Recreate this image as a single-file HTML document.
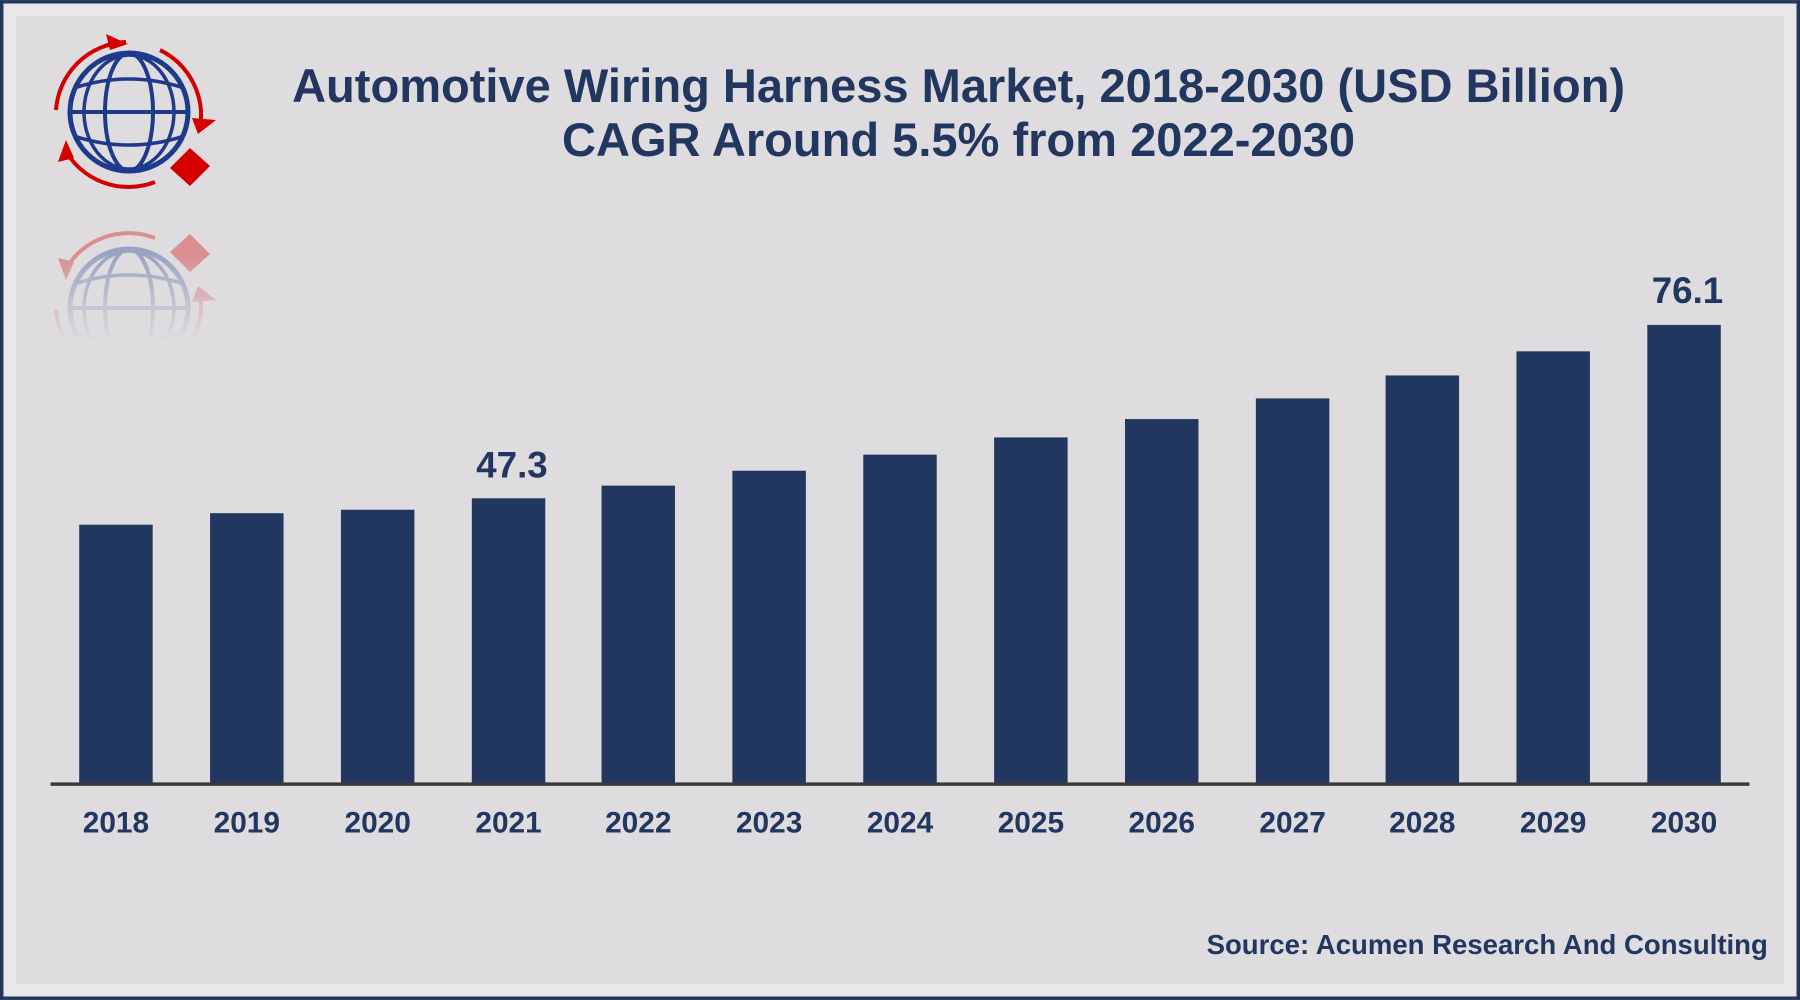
<!DOCTYPE html>
<html><head><style>html,body{margin:0;padding:0;background:#dedcdf}svg{display:block}</style></head><body>
<svg width="1800" height="1000" viewBox="0 0 1568 871" xmlns="http://www.w3.org/2000/svg" font-family="Liberation Sans, sans-serif" font-weight="bold">
<defs>
<linearGradient id="fade" x1="0" y1="0" x2="0" y2="1"><stop offset="0" stop-color="#dedcdf" stop-opacity="0"/><stop offset="0.6" stop-color="#dedcdf" stop-opacity="1"/></linearGradient>
<g id="lg">
<circle cx="129" cy="112" r="59" fill="none" stroke="#1e3a8a" stroke-width="5"/>
<ellipse cx="129" cy="112" rx="24" ry="59" fill="none" stroke="#1e3a8a" stroke-width="4"/>
<ellipse cx="129" cy="112" rx="45" ry="57" fill="none" stroke="#1e3a8a" stroke-width="3.5"/>
<line x1="70" y1="112" x2="188" y2="112" stroke="#1e3a8a" stroke-width="4"/>
<path d="M74 88 Q129 70 184 88" fill="none" stroke="#1e3a8a" stroke-width="3.5"/>
<path d="M74 136 Q129 154 184 136" fill="none" stroke="#1e3a8a" stroke-width="3.5"/>
<path d="M56 110 A73 73 0 0 1 126 42" fill="none" stroke="#d40000" stroke-width="4"/>
<polygon points="106,34 128,44 110,50" fill="#d40000"/>
<path d="M160 50 A73 73 0 0 1 200 128" fill="none" stroke="#d40000" stroke-width="4"/>
<polygon points="216,120 198,134 192,118" fill="#d40000"/>
<path d="M64 148 A73 73 0 0 0 155 182" fill="none" stroke="#d40000" stroke-width="4"/>
<polygon points="58,162 66,140 74,158" fill="#d40000"/>
<polygon points="190,148 210,166 190,186 170,168" fill="#d40000"/>
</g>
</defs>
<rect x="0" y="0" width="1568" height="871" fill="#21375f"/>
<rect x="3" y="3" width="1562" height="865" fill="#e8e7ea"/>
<rect x="14" y="14" width="1540" height="843" fill="#dedcdf"/>
<g transform="scale(0.871)">
<use href="#lg"/>
<g opacity="0.35" transform="translate(0,420) scale(1,-1)"><use href="#lg"/></g>
</g>
<rect x="30" y="222" width="190" height="125" fill="url(#fade)"/>
<g fill="#21375f" font-size="41" text-anchor="middle">
<text x="835" y="89">Automotive Wiring Harness Market, 2018-2030 (USD Billion)</text>
<text x="835" y="136">CAGR Around 5.5% from 2022-2030</text>
</g>
<g fill="#21375f">
<rect x="69" y="457" width="64" height="226"/>
<rect x="183" y="447" width="64" height="236"/>
<rect x="297" y="444" width="64" height="239"/>
<rect x="411" y="434" width="64" height="249"/>
<rect x="524" y="423" width="64" height="260"/>
<rect x="638" y="410" width="64" height="273"/>
<rect x="752" y="396" width="64" height="287"/>
<rect x="866" y="381" width="64" height="302"/>
<rect x="980" y="365" width="64" height="318"/>
<rect x="1094" y="347" width="64" height="336"/>
<rect x="1207" y="327" width="64" height="356"/>
<rect x="1321" y="306" width="64" height="377"/>
<rect x="1435" y="283" width="64" height="400"/>
</g>
<line x1="44" y1="683" x2="1524" y2="683" stroke="#3a3a3a" stroke-width="3"/>
<g fill="#21375f" font-size="26" text-anchor="middle">
<text x="101" y="725">2018</text><text x="215" y="725">2019</text><text x="329" y="725">2020</text>
<text x="443" y="725">2021</text><text x="556" y="725">2022</text><text x="670" y="725">2023</text>
<text x="784" y="725">2024</text><text x="898" y="725">2025</text><text x="1012" y="725">2026</text>
<text x="1126" y="725">2027</text><text x="1239" y="725">2028</text><text x="1353" y="725">2029</text>
<text x="1467" y="725">2030</text>
<text x="446" y="416" font-size="32">47.3</text>
<text x="1470" y="264" font-size="32">76.1</text>
</g>
<text x="1540" y="831" fill="#21375f" font-size="24" text-anchor="end">Source: Acumen Research And Consulting</text>
</svg>
</body></html>
